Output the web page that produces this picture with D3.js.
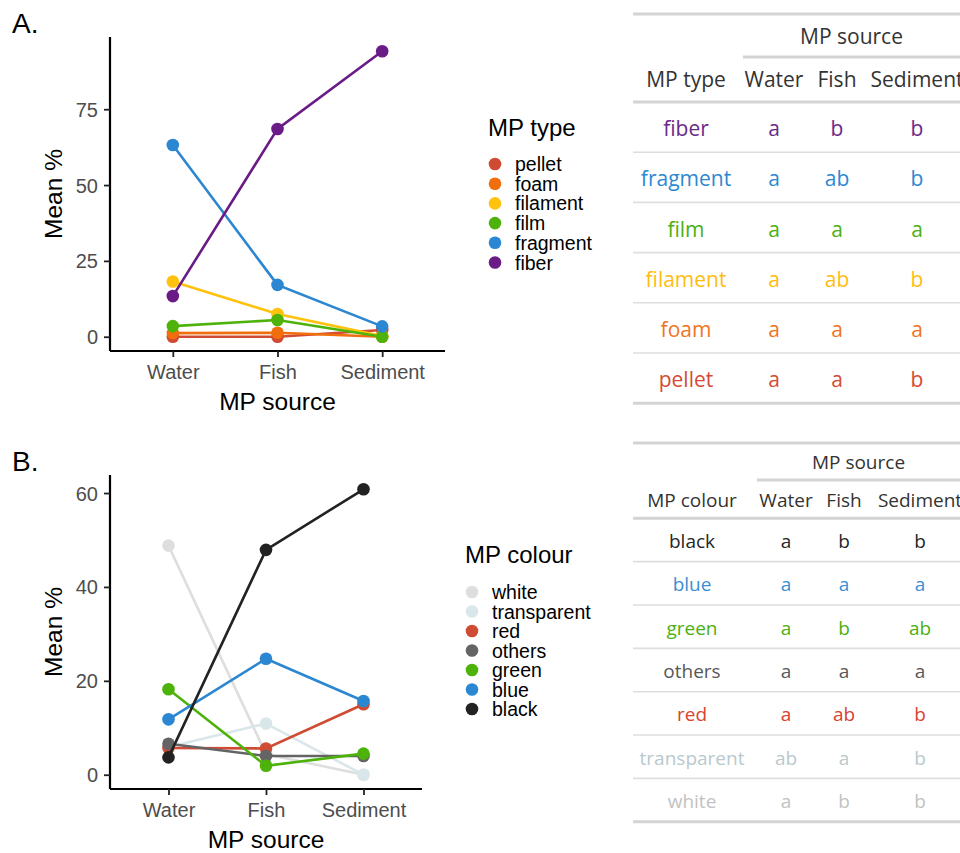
<!DOCTYPE html>
<html>
<head>
<meta charset="utf-8">
<script src="https://cdn.jsdelivr.net/npm/d3@7"></script>
<style>
  body { margin: 0; background: #fff; overflow: hidden; }
  svg { display: block; }
</style>
</head>
<body>
<script>
// kategorier och värden
var sources = ['Water', 'Fish', 'Sediment'];

// panel A - MP type
var typeNames = ['pellet', 'foam', 'filament', 'film', 'fragment', 'fiber'];
var typeColors = ['#d04b33', '#f06e0c', '#ffc20e', '#4db30b', '#2b87d1', '#6a1b86'];
var typeMeans = [
    [0, 0, 2.2],
    [1.2, 1.3, 0],
    [18.2, 7.5, 0.2],
    [3.5, 5.5, 0],
    [63.2, 17.1, 3.4],
    [13.4, 68.5, 94.1]
];

// panel B - MP colour
var colourNames = ['white', 'transparent', 'red', 'others', 'green', 'blue', 'black'];
var colourColors = ['#dedede', '#dae7ea', '#d04b33', '#646464', '#4db30b', '#2b87d1', '#222222'];
var colourMeans = [
    [48.8, 4.4, 0],
    [5.9, 10.9, 0],
    [5.7, 5.6, 15.0],
    [6.6, 4.0, 4.0],
    [18.2, 1.9, 4.5],
    [11.8, 24.7, 15.7],
    [3.7, 47.9, 60.8]
];

var yTicksA = [0, 25, 50, 75];
var yTicksB = [0, 20, 40, 60];

// tabeller med bokstavsgrupper
var typeRows = ['fiber', 'fragment', 'film', 'filament', 'foam', 'pellet'];
var typeLetters = [
    ['a', 'b', 'b'],
    ['a', 'ab', 'b'],
    ['a', 'a', 'a'],
    ['a', 'ab', 'b'],
    ['a', 'a', 'a'],
    ['a', 'a', 'b']
];
var typeTextColors = ['#6b2a8a', '#2d88d2', '#4cb010', '#ffbd10', '#f07424', '#d54a33'];

var colourRows = ['black', 'blue', 'green', 'others', 'red', 'transparent', 'white'];
var colourLetters = [
    ['a', 'b', 'b'],
    ['a', 'a', 'a'],
    ['a', 'b', 'ab'],
    ['a', 'a', 'a'],
    ['a', 'ab', 'b'],
    ['ab', 'a', 'b'],
    ['a', 'b', 'b']
];
var colourTextColors = ['#262626', '#3a8fd4', '#4cb010', '#585858', '#d8432f', '#b9c9cd', '#c2c2c2'];

var width = 960, height = 853;
var chartFont = '"Liberation Sans", Arial, sans-serif';
var tableFont = '"Open Sans", "Noto Sans", sans-serif';

var canvas = d3.select('body').append('svg')
    .attr('width', width)
    .attr('height', height);

function drawPanel(opt) {
    var g = canvas.append('g');

    var x = d3.scalePoint().domain(sources).range([opt.left, opt.right]).padding(0.6);
    var maxV = d3.max(opt.means, function(d) { return d3.max(d); });
    var minV = d3.min(opt.means, function(d) { return d3.min(d); });
    var pad = (maxV - minV) * 0.05;
    var y = d3.scaleLinear().domain([minV - pad, maxV + pad]).range([opt.bottom, opt.top]);

    // panelbokstav
    g.append('text').attr('x', 12).attr('y', opt.labelY)
        .attr('font-family', chartFont).attr('font-size', 28).text(opt.label);

    // axlar
    var yAxis = g.append('g').attr('transform', 'translate(' + opt.left + ',0)')
        .call(d3.axisLeft(y).tickValues(opt.ticks).tickSize(6).tickPadding(6).tickSizeOuter(0));
    var xAxis = g.append('g').attr('transform', 'translate(0,' + opt.bottom + ')')
        .call(d3.axisBottom(x).tickSize(6).tickPadding(8).tickSizeOuter(0));
    [yAxis, xAxis].forEach(function(ax) {
        ax.select('.domain').attr('stroke', '#000').attr('stroke-width', 2.2);
        ax.selectAll('.tick line').attr('stroke', '#222').attr('stroke-width', 1.8);
        ax.selectAll('.tick text').attr('fill', '#4d4d4d')
            .attr('font-family', chartFont).attr('font-size', 20);
    });
    yAxis.select('.domain').attr('d', 'M0,' + opt.bottom + 'V' + opt.top);
    xAxis.select('.domain').attr('d', 'M' + opt.left + ',0H' + opt.right);
    yAxis.selectAll('.tick text').attr('dy', '0.35em');

    // axeltitlar
    g.append('text')
        .attr('transform', 'translate(62,' + ((opt.top + opt.bottom) / 2) + ') rotate(-90)')
        .attr('text-anchor', 'middle').attr('font-family', chartFont).attr('font-size', 24.5)
        .text('Mean %');
    g.append('text').attr('x', (opt.left + opt.right) / 2).attr('y', opt.xTitleY)
        .attr('text-anchor', 'middle').attr('font-family', chartFont).attr('font-size', 24.5)
        .text('MP source');

    // linjer och punkter, en grupp i taget
    var line = d3.line()
        .x(function(d, i) { return x(sources[i]); })
        .y(function(d) { return y(d); });

    var groups = g.append('g').selectAll('g').data(opt.means)
        .enter().append('g');
    groups.append('path')
        .attr('d', function(d) { return line(d); })
        .attr('fill', 'none')
        .attr('stroke', function(d, i) { return opt.colors[i]; })
        .attr('stroke-width', 2.6);
    groups.each(function(d, i) {
        d3.select(this).selectAll('circle').data(d)
            .enter().append('circle')
            .attr('cx', function(v, j) { return x(sources[j]); })
            .attr('cy', function(v) { return y(v); })
            .attr('r', 6.3)
            .attr('fill', opt.colors[i]);
    });

    // legend
    var leg = g.append('g');
    leg.append('text').attr('x', opt.legX).attr('y', opt.legTitleY)
        .attr('font-family', chartFont).attr('font-size', 24).text(opt.legTitle);
    var items = leg.selectAll('g.item').data(opt.names)
        .enter().append('g').attr('class', 'item')
        .attr('transform', function(d, i) { return 'translate(0,' + (opt.legY + i * opt.legStep) + ')'; });
    items.append('circle').attr('cx', opt.legX + 7).attr('cy', 0).attr('r', 6.3)
        .attr('fill', function(d, i) { return opt.colors[i]; });
    items.append('text').attr('x', opt.legX + 27).attr('y', 7)
        .attr('font-family', chartFont).attr('font-size', 19.5).text(function(d) { return d; });
}

function drawTable(opt) {
    var g = canvas.append('g').attr('font-family', tableFont).attr('font-size', opt.fontSize);
    var rule = function(y, x0, w, c) {
        g.append('line').attr('x1', x0).attr('x2', 960).attr('y1', y).attr('y2', y)
            .attr('stroke', c || '#dcdcdc').attr('stroke-width', w);
    };
    rule(opt.top, 633, 3, '#d3d3d3');
    g.append('text').attr('x', (opt.spanX + 960 + 30) / 2 - 15).attr('y', opt.spanTextY)
        .attr('text-anchor', 'middle').attr('fill', '#333').text('MP source');
    rule(opt.spanY, opt.spanX, 3, '#d3d3d3');

    var headers = [opt.firstHeader].concat(sources);
    g.selectAll('text.hdr').data(headers).enter().append('text').attr('class', 'hdr')
        .attr('x', function(d, i) { return opt.colX[i]; })
        .attr('y', opt.headY)
        .attr('text-anchor', 'middle').attr('fill', '#333')
        .text(function(d) { return d; });
    rule(opt.headRule, 633, 3, '#d3d3d3');

    var rowY = function(i) { return opt.headRule + opt.rowH * i; };
    opt.rows.forEach(function(name, i) {
        var cells = [name].concat(opt.letters[i]);
        g.selectAll('text.r' + i).data(cells).enter().append('text').attr('class', 'r' + i)
            .attr('x', function(d, j) { return opt.colX[j]; })
            .attr('y', rowY(i) + opt.rowH / 2 + opt.baseOff)
            .attr('text-anchor', 'middle').attr('fill', opt.colors[i])
            .text(function(d) { return d; });
        if (i < opt.rows.length - 1) rule(rowY(i + 1), 633, 1.6, '#dedede');
    });
    rule(rowY(opt.rows.length), 633, 3, '#d3d3d3');
}

drawPanel({
    label: 'A.', labelY: 33, means: typeMeans, colors: typeColors, names: typeNames,
    ticks: yTicksA, left: 110, right: 445, top: 37, bottom: 351, xTitleY: 410,
    legTitle: 'MP type', legX: 488, legTitleY: 136, legY: 164, legStep: 19.7
});
drawPanel({
    label: 'B.', labelY: 471, means: colourMeans, colors: colourColors, names: colourNames,
    ticks: yTicksB, left: 110, right: 422, top: 475, bottom: 789, xTitleY: 848,
    legTitle: 'MP colour', legX: 465, legTitleY: 563, legY: 592, legStep: 19.5
});

drawTable({
    fontSize: 21, top: 14, spanX: 743, spanY: 57, spanTextY: 44, headY: 87,
    headRule: 102, rowH: 50.2, baseOff: 9, colX: [686, 774, 837, 917],
    firstHeader: 'MP type', rows: typeRows, letters: typeLetters, colors: typeTextColors
});
drawTable({
    fontSize: 19, top: 443, spanX: 757, spanY: 480, spanTextY: 469, headY: 507,
    headRule: 518.3, rowH: 43.35, baseOff: 8, colX: [692, 786, 844, 920],
    firstHeader: 'MP colour', rows: colourRows, letters: colourLetters, colors: colourTextColors
});
</script>
</body>
</html>
